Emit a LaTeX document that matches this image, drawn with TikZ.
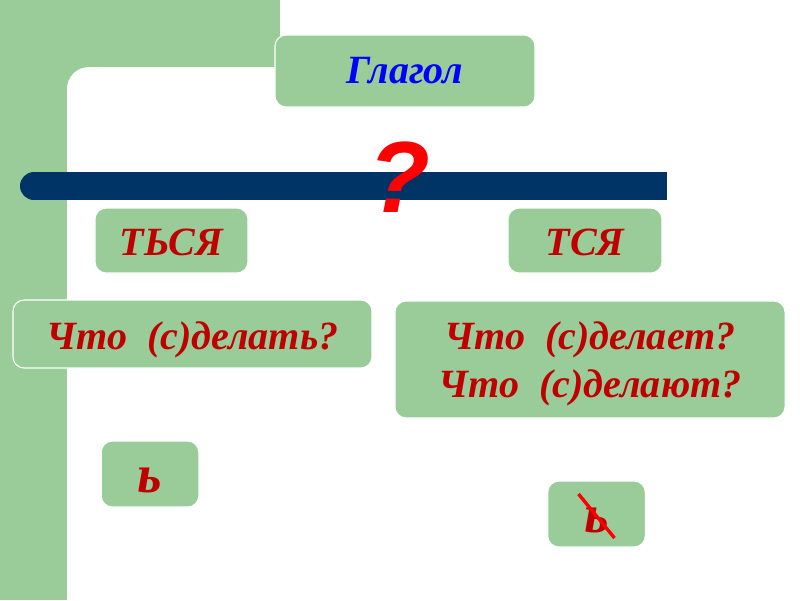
\documentclass[tikz,border=0pt]{standalone}
\usepackage{fontspec}
\setmainfont{Liberation Serif}
\setsansfont{Liberation Sans}
\definecolor{boxgreen}{RGB}{153,204,153}
\definecolor{barblue}{RGB}{0,51,102}
\definecolor{wordred}{RGB}{192,0,0}
\definecolor{glagolblue}{RGB}{0,0,255}

\begin{document}
\begin{tikzpicture}[
  x=0.025cm, y=-0.025cm,
  every node/.style={font=\fontsize{28.5}{34}\selectfont\bfseries\itshape, align=center},
  greenbox/.style={fill=boxgreen, draw=white, line width=0.8pt, rounded corners=0.28cm, inner sep=0pt, text=wordred},
  linebox/.style={greenbox, text height=22pt, text depth=0pt},
  signbox/.style={greenbox, minimum width=2.44cm, minimum height=1.65cm, text height=26pt, text depth=0pt, font=\fontsize{38}{40}\selectfont\bfseries\itshape},
  strike/.style={draw=red, line width=2.4pt}
  ]
\useasboundingbox (0,0) rectangle (800,600);

% background frame
\fill[boxgreen] (0,0) rectangle (280,600);
\fill[white, rounded corners=0.55cm] (67,67) rectangle (840,640);

% bar with the question
\fill[barblue] (34,172) rectangle (667,200);
\fill[barblue] (34,186) circle[radius=14];
\node[text=red, font=\fontsize{72}{72}\selectfont\sffamily\bfseries\itshape] (quest) at (399,177) {?};

% top word
\node[greenbox, text=glagolblue, minimum width=6.5cm, minimum height=1.8cm] (glagol) at (405,71) {Глагол};

% endings
\node[linebox, minimum width=3.825cm, minimum height=1.625cm] (tsyasoft) at (171.5,240.5) {ТЬСЯ};
\node[linebox, minimum width=3.85cm, minimum height=1.625cm] (tsya) at (585,240.5) {ТСЯ};

% questions
\node[linebox, minimum width=8.975cm, minimum height=1.7cm] (sdelat) at (192.5,334) {Что \ (с)делать?};
\node[greenbox, text depth=0pt, minimum width=9.75cm, minimum height=2.925cm] (sdelaet) at (590,359.5) {Что \ (с)делает?\\Что \ (с)делают?};

% soft sign
\node[signbox] (softsign) at (150,474) {ь};
\node[signbox] (nosign) at (596.5,514) {ь};
\draw[strike] ([shift={(-18,-20)}]nosign.center) -- ([shift={(18,24)}]nosign.center);
\end{tikzpicture}
\end{document}
